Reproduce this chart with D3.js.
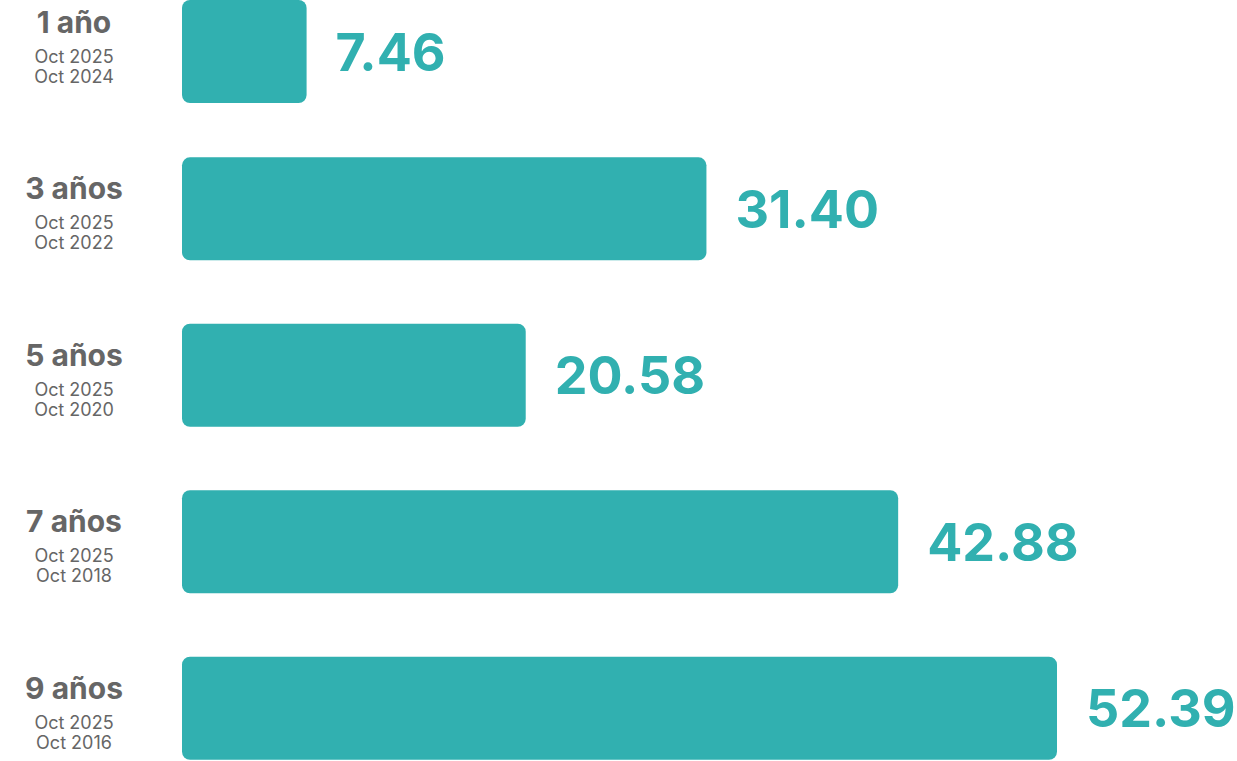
<!DOCTYPE html>
<html>
<head>
<meta charset="utf-8">
<script src="https://cdn.jsdelivr.net/npm/d3@7"></script>
<style>
  body { margin: 0; background: #fff; }
  text { font-family: Inter, "Noto Sans", sans-serif; }
</style>
</head>
<body>
<div id="chart"></div>
<script>
// data
var periods = ["1 año", "3 años", "5 años", "7 años", "9 años"];
var startDates = ["Oct 2025", "Oct 2025", "Oct 2025", "Oct 2025", "Oct 2025"];
var endDates = ["Oct 2024", "Oct 2022", "Oct 2020", "Oct 2018", "Oct 2016"];
var returns = [7.46, 31.40, 20.58, 42.88, 52.39];

var width = 1237, height = 761;
var teal = "#31b0b0";

var svg = d3.select("#chart")
    .append("svg")
    .attr("width", width)
    .attr("height", height);

// scales
var x = d3.scaleLinear()
    .domain([0, 52.39])
    .range([182, 1057]);

var y = d3.scaleBand()
    .domain(periods)
    .range([-9.2, 759.8])
    .paddingInner(0.381)
    .paddingOuter(0);

var rows = periods.map(function (p, i) {
    return { period: p, from: startDates[i], to: endDates[i], value: returns[i] };
});

// bar top, first row sits flush with the top edge
function barTop(d) { return Math.max(0, y(d.period)); }

// bars
svg.append("g")
    .selectAll("rect")
    .data(rows)
    .enter()
    .append("rect")
    .attr("x", x(0))
    .attr("y", barTop)
    .attr("width", function (d) { return x(d.value) - x(0); })
    .attr("height", y.bandwidth())
    .attr("rx", 8)
    .attr("ry", 8)
    .style("fill", teal);

// value labels
svg.append("g")
    .selectAll("text")
    .data(rows)
    .enter()
    .append("text")
    .attr("x", function (d) { return x(d.value) + 29; })
    .attr("y", function (d) { return barTop(d) + y.bandwidth() / 2 + 19; })
    .text(function (d) { return d.value.toFixed(2); })
    .style("font-size", "52px")
    .style("font-weight", "700")
    .style("fill", teal);

// left labels
var lab = svg.append("g")
    .selectAll("g")
    .data(rows)
    .enter()
    .append("g")
    .attr("transform", function (d) { return "translate(74," + y(d.period) + ")"; });

lab.append("text")
    .attr("y", 42)
    .attr("text-anchor", "middle")
    .text(function (d) { return d.period; })
    .style("font-size", "30px")
    .style("font-weight", "700")
    .style("fill", "#666");

lab.append("text")
    .attr("y", 72)
    .attr("text-anchor", "middle")
    .text(function (d) { return d.from; })
    .style("font-size", "18px")
    .style("fill", "#666");

lab.append("text")
    .attr("y", 92)
    .attr("text-anchor", "middle")
    .text(function (d) { return d.to; })
    .style("font-size", "18px")
    .style("fill", "#666");
</script>
</body>
</html>
